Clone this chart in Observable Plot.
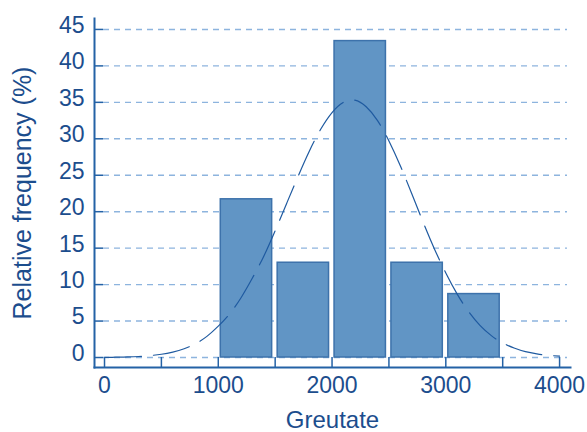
<!DOCTYPE html>
<html>
<head>
<meta charset="utf-8">
<script src="https://cdn.jsdelivr.net/npm/d3@7"></script>
<script src="https://cdn.jsdelivr.net/npm/@observablehq/plot@0.6"></script>
<style>
  html, body { margin: 0; padding: 0; background: #fff; }
  #chart { width: 587px; height: 432px; }
</style>
</head>
<body>
<div id="chart"></div>
<script>
// Histogram bins (weight, grams) and relative frequency (%)
const binStart = [1000, 1500, 2000, 2500, 3000];
const binEnd   = [1500, 2000, 2500, 3000, 3500];
const freq     = [21.7, 13.0, 43.4, 13.0, 8.7];

// Fitted normal curve
const curveX = [0,100,200,300,400,500,600,700,800,900,1000,1100,1200,1300,1400,1500,1600,1700,1800,1900,2000,2100,2200,2300,2400,2500,2600,2700,2800,2900,3000,3100,3200,3300,3400,3500,3600,3700,3800,3900,4000];
const curveY = [0.02,0.04,0.08,0.14,0.26,0.45,0.75,1.2,1.9,2.9,4.3,6.0,8.2,10.9,13.9,17.4,21.1,24.8,28.3,31.3,33.6,35.0,35.3,34.4,32.5,29.7,26.3,22.5,18.6,14.9,11.6,8.7,6.3,4.4,3.0,2.0,1.3,0.8,0.5,0.3,0.2];

// Axis ticks
const yTicks = [0,5,10,15,20,25,30,35,40,45];
const xTicks = [0,500,1000,1500,2000,2500,3000,3500,4000];
const xLabels = [0,1000,2000,3000,4000];

const bars = binStart.map((s, i) => ({x1: s, x2: binEnd[i], y: freq[i]}));
const curve = curveX.map((x, i) => ({x, y: curveY[i]}));

const W = 587, H = 432, mL = 94, mR = 17, mT = 18, mB = 65;
const frameW = W - mL - mR, frameH = H - mT - mB;
const axisColor = "#2462a6";
const textColor = "#1c4d8d";

const chart = Plot.plot({
  width: W, height: H,
  marginLeft: mL, marginRight: mR, marginTop: mT, marginBottom: mB,
  style: {fontFamily: "'Liberation Sans', Arial, sans-serif", fontSize: "23px", color: textColor, background: "#fff"},
  x: {domain: [-88, 4096], axis: null},
  y: {domain: [-1.37, 46.5], axis: null},
  marks: [
    Plot.gridY(yTicks, {stroke: "#8db4de", strokeOpacity: 1, strokeWidth: 1.4, strokeDasharray: "6,5", insetLeft: 9, insetRight: 3}),
    Plot.rectY(bars, {x1: "x1", x2: "x2", y: "y", fill: "#6195c5", stroke: "#3d72ab", strokeWidth: 1.5, insetLeft: 2.5, insetRight: 3}),
    Plot.line(curve, {x: "x", y: "y", stroke: "#1f5aa0", strokeWidth: 1.2, strokeDasharray: "37,12", curve: "natural"}),
    Plot.axisY(yTicks, {anchor: "left", tickSize: 0, tickPadding: 10, dy: -4, fill: textColor, fontSize: 23, tickFormat: d => String(d), label: null}),
    Plot.axisY({anchor: "left", ticks: [], tickSize: 0, fill: textColor, fontSize: 25, label: "Relative frequency (%)", labelAnchor: "center", labelOffset: 81, labelArrow: "none"}),
    Plot.axisX(xLabels, {anchor: "bottom", tickSize: 0, tickPadding: 9, fill: textColor, fontSize: 23, tickFormat: d => String(d), label: null}),
    Plot.axisX({anchor: "bottom", ticks: [], tickSize: 0, fill: textColor, fontSize: 24, label: "Greutate", labelAnchor: "center", labelOffset: 60, labelArrow: "none"}),
    Plot.tickY(yTicks, {y: d => d, stroke: axisColor, strokeWidth: 1.5, insetRight: frameW - 9}),
    Plot.tickX(xTicks, {x: d => d, stroke: axisColor, strokeWidth: 1.5, insetTop: frameH - 10}),
    Plot.frame({anchor: "left", stroke: axisColor, strokeWidth: 2}),
    Plot.frame({anchor: "bottom", stroke: axisColor, strokeWidth: 2})
  ]
});
document.getElementById("chart").appendChild(chart);
</script>
</body>
</html>
